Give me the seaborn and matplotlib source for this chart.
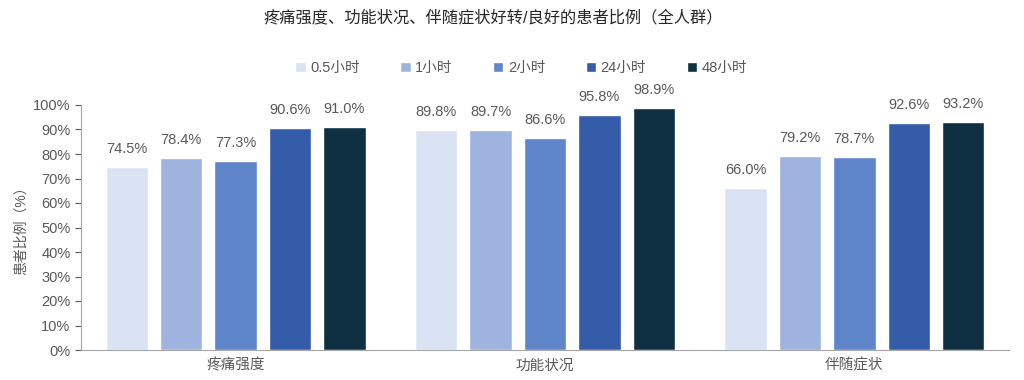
import matplotlib
matplotlib.use("Agg")
import matplotlib.pyplot as plt
import seaborn as sns
import pandas as pd
from matplotlib.ticker import PercentFormatter

categories = ["疼痛强度", "功能状况", "伴随症状"]
times = ["0.5小时", "1小时", "2小时", "24小时", "48小时"]
vals_05h = [74.5, 89.8, 66.0]
vals_1h = [78.4, 89.7, 79.2]
vals_2h = [77.3, 86.6, 78.7]
vals_24h = [90.6, 95.8, 92.6]
vals_48h = [91.0, 98.9, 93.2]
colors = ["#DAE3F3", "#9EB4DF", "#5F86CA", "#345CA8", "#0E3042"]

rows = []
for t, vals in zip(times, [vals_05h, vals_1h, vals_2h, vals_24h, vals_48h]):
    for c, v in zip(categories, vals):
        rows.append({"类别": c, "时间": t, "比例": v})
df = pd.DataFrame(rows)

sns.set_style("white")
plt.rcParams["font.family"] = ["Liberation Sans", "Noto Sans CJK SC", "DejaVu Sans"]
gray = "#595959"

fig = plt.figure(figsize=(10.24, 3.8), dpi=100)
ax = fig.add_axes([81 / 1024, 1 - 350 / 380, (1009 - 81) / 1024, 245 / 380])
sns.barplot(data=df, x="类别", y="比例", hue="时间", hue_order=times,
            palette=colors, saturation=1, width=0.88, gap=0.22, ax=ax, legend=True)

for cont in ax.containers:
    ax.bar_label(cont, labels=[f"{b.get_height():.1f}%" for b in cont],
                 padding=8, fontsize=10.5, color=gray)

ax.set_xlim(-0.5, 2.5)
ax.set_ylim(0, 100)
ax.set_yticks(range(0, 101, 10))
ax.yaxis.set_major_formatter(PercentFormatter(decimals=0))
ax.set_xlabel("")
ax.set_ylabel("患者比例（%）", fontsize=10, color=gray)
ax.tick_params(axis="y", colors=gray, labelsize=10.5, length=4, direction="out", left=True)
ax.tick_params(axis="x", colors=gray, labelsize=10.5, length=0, pad=6)
for s in ["top", "right"]:
    ax.spines[s].set_visible(False)
ax.spines["left"].set_color("#A6A6A6")
ax.spines["bottom"].set_color("#A6A6A6")

handles, labels = ax.get_legend_handles_labels()
ax.legend_.remove()
fig.legend(handles, labels, loc="center", bbox_to_anchor=(0.509, 1 - 68 / 380),
           ncol=5, frameon=False, fontsize=10.5, handlelength=0.7, handleheight=0.7,
           handletextpad=0.3, columnspacing=2.8, labelcolor=gray)

fig.text(0.482, 1 - 17 / 380, "疼痛强度、功能状况、伴随症状好转/良好的患者比例（全人群）",
         ha="center", va="center", fontsize=11.7, color="#262626")

fig.savefig("out.png", dpi=100)
